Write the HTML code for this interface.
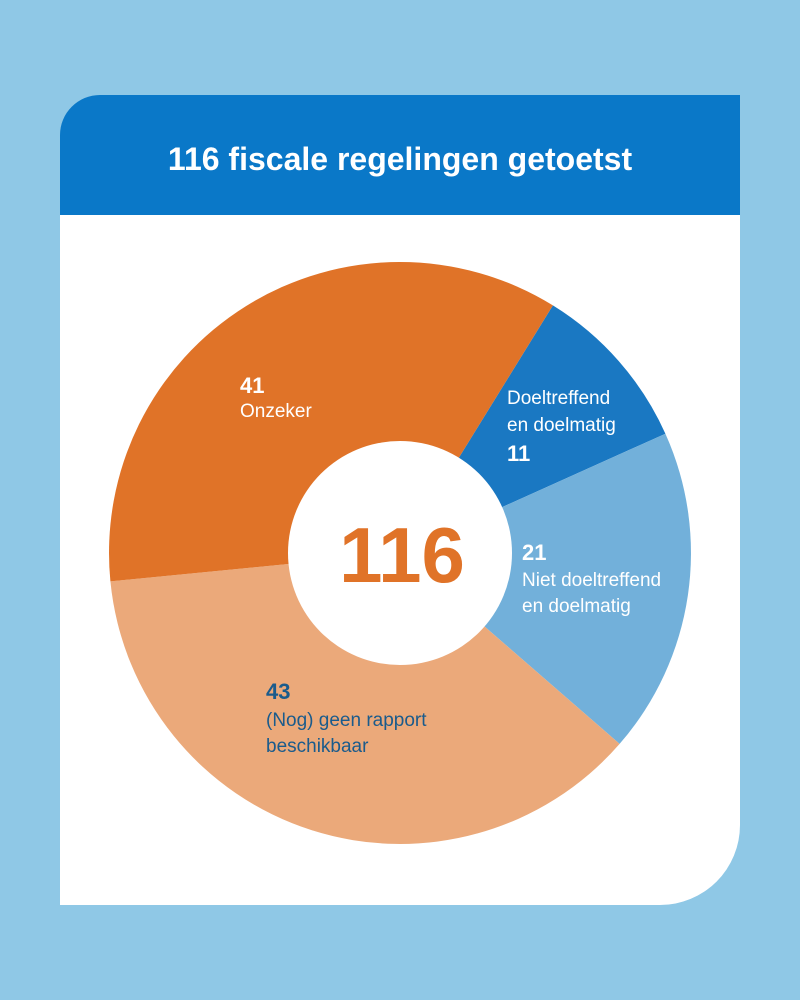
<!DOCTYPE html>
<html><head><meta charset="utf-8"><style>
html,body{margin:0;padding:0;background:#8fc8e6;}
body{width:800px;height:1000px;position:relative;overflow:hidden;font-family:"Liberation Sans","DejaVu Sans",sans-serif;}
svg{position:absolute;left:0;top:0;}
</style></head><body>
<svg width="800" height="1000" viewBox="0 0 800 1000" xmlns="http://www.w3.org/2000/svg">
<rect width="800" height="1000" fill="#8fc8e6"/>
<path d="M60,215 L740,215 L740,825 A80,80 0 0 1 660,905 L60,905 Z" fill="#ffffff"/>
<path d="M100,95 L740,95 L740,215 L60,215 L60,135 A40,40 0 0 1 100,95 Z" fill="#0a78c8"/>
<text x="400" y="170" text-anchor="middle" font-size="32" font-weight="bold" fill="#ffffff">116 fiscale regelingen getoetst</text>
<path d="M400,553 L552.9,305.4 A291,291 0 0 1 665.4,433.7 Z" fill="#1a78c2"/>
<path d="M400,553 L665.4,433.7 A291,291 0 0 1 619.6,743.9 Z" fill="#72b0da"/>
<path d="M400,553 L619.6,743.9 A291,291 0 0 1 110.4,581.4 Z" fill="#eba97a"/>
<path d="M400,553 L110.4,581.4 A291,291 0 0 1 552.9,305.4 Z" fill="#e07328"/>
<circle cx="400" cy="553" r="112" fill="#ffffff"/>
<text x="402" y="582" text-anchor="middle" font-size="78" font-weight="bold" fill="#e07328">116</text>
<g font-size="19" fill="#ffffff">
<text x="240" y="393" font-weight="bold" font-size="22">41</text>
<text x="240" y="417">Onzeker</text>
<text x="507" y="404">Doeltreffend</text>
<text x="507" y="431">en doelmatig</text>
<text x="507" y="461" font-weight="bold" font-size="22">11</text>
<text x="522" y="560" font-weight="bold" font-size="22">21</text>
<text x="522" y="586">Niet doeltreffend</text>
<text x="522" y="612">en doelmatig</text>
</g>
<g font-size="19" fill="#1a5b8c">
<text x="266" y="699" font-weight="bold" font-size="22">43</text>
<text x="266" y="726">(Nog) geen rapport</text>
<text x="266" y="752">beschikbaar</text>
</g>
</svg>
</body></html>
